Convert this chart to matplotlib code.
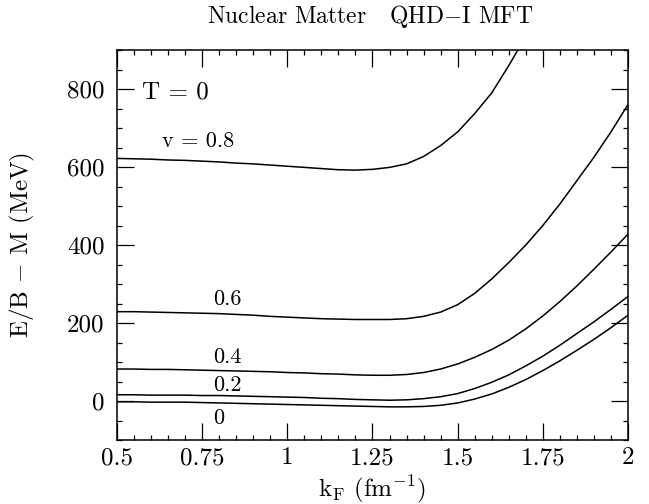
import matplotlib
matplotlib.use("Agg")
import matplotlib.pyplot as plt
from matplotlib.ticker import MultipleLocator

plt.rcParams['font.family'] = 'cmr10'
plt.rcParams['mathtext.fontset'] = 'cm'
plt.rcParams['axes.formatter.use_mathtext'] = True
plt.rcParams['axes.unicode_minus'] = False

# ---- data ----
kF = [0.50, 0.55, 0.60, 0.65, 0.70, 0.75, 0.80, 0.85, 0.90, 0.95, 1.00,
      1.05, 1.10, 1.15, 1.20, 1.25, 1.30, 1.35, 1.40, 1.45, 1.50, 1.55,
      1.60, 1.65, 1.70, 1.75, 1.80, 1.85, 1.90, 1.95, 2.00]
kF_v08 = kF[:25]
E_v08 = [622, 621, 620, 618, 617, 615, 613, 610, 608, 605, 602, 599, 596,
         593, 592, 594, 599, 608, 627, 655, 690, 737, 790, 860, 935]
E_v06 = [229, 229, 228, 227, 226, 225, 224, 222, 220, 217, 215, 213, 211,
         210, 209, 209, 209, 211, 217, 228, 247, 276, 313, 355, 400, 450,
         505, 565, 625, 690, 760]
E_v04 = [82, 82, 81, 81, 80, 79, 78, 77, 76, 75, 73, 72, 70, 69, 67, 66,
         66, 68, 73, 82, 95, 112, 132, 156, 185, 218, 255, 295, 338, 382, 428]
E_v02 = [16, 16, 15, 15, 15, 14, 14, 13, 12, 11, 10, 9, 7, 6, 4, 3, 2, 3,
         6, 11, 19, 32, 48, 67, 90, 115, 143, 173, 203, 235, 268]
E_v00 = [-2, -2, -3, -3, -3, -4, -5, -6, -7, -8, -9, -10, -11, -12, -13,
         -14, -15, -15, -14, -11, -5, 5, 18, 35, 55, 78, 103, 130, 158, 188, 220]

xticks = [0.5, 0.75, 1.0, 1.25, 1.5, 1.75, 2.0]
xticklabels = ["0.5", "0.75", "1", "1.25", "1.5", "1.75", "2"]
yticks = [0, 200, 400, 600, 800]
yticklabels = ["0", "200", "400", "600", "800"]

curve_labels = ["v = 0.8", "0.6", "0.4", "0.2", "0"]
label_pos = [(0.632, 667), (0.782, 261), (0.782, 113), (0.782, 41), (0.782, -43)]

# ---- figure ----
fig = plt.figure(figsize=(6.49, 5.04), dpi=100)
ax = fig.add_axes([117/649, 1-440/504, (628-117)/649, (440-50)/504])

lw = 1.1
ax.plot(kF_v08, E_v08, color='black', lw=lw)
for E in (E_v06, E_v04, E_v02, E_v00):
    ax.plot(kF, E, color='black', lw=lw)

ax.set_xlim(0.5, 2.0)
ax.set_ylim(-100, 900)
ax.set_xticks(xticks)
ax.set_xticklabels(xticklabels)
ax.set_yticks(yticks)
ax.set_yticklabels(yticklabels)
ax.xaxis.set_minor_locator(MultipleLocator(0.05))
ax.yaxis.set_minor_locator(MultipleLocator(50))
ax.tick_params(which='both', direction='in', top=True, right=True,
               labelsize=18, width=0.9)
ax.tick_params(which='major', length=12)
ax.tick_params(axis='y', which='major', pad=9)
ax.tick_params(axis='x', which='major', pad=5)
ax.tick_params(which='minor', length=3.6)
for s in ax.spines.values():
    s.set_linewidth(1.1)

ax.set_xlabel(r"k$_{\rm F}$ (fm$^{-1}$)", fontsize=18, va='center')
ax.xaxis.set_label_coords(0.5, -0.127)
ax.set_ylabel(r"E/B $-$ M (MeV)", fontsize=18, va='center')
ax.yaxis.set_label_coords(-0.185, 0.5)

ax.text(0.573, 790, "T = 0", fontsize=18, ha='left', va='center')
for txt, (x, y) in zip(curve_labels, label_pos):
    ax.text(x, y, txt, fontsize=16, ha='left', va='center')

fig.text(370/649, 1-16/504, r"Nuclear Matter   QHD$-$I MFT", fontsize=17,
         ha='center', va='center')

fig.savefig("out.png", dpi=100)
